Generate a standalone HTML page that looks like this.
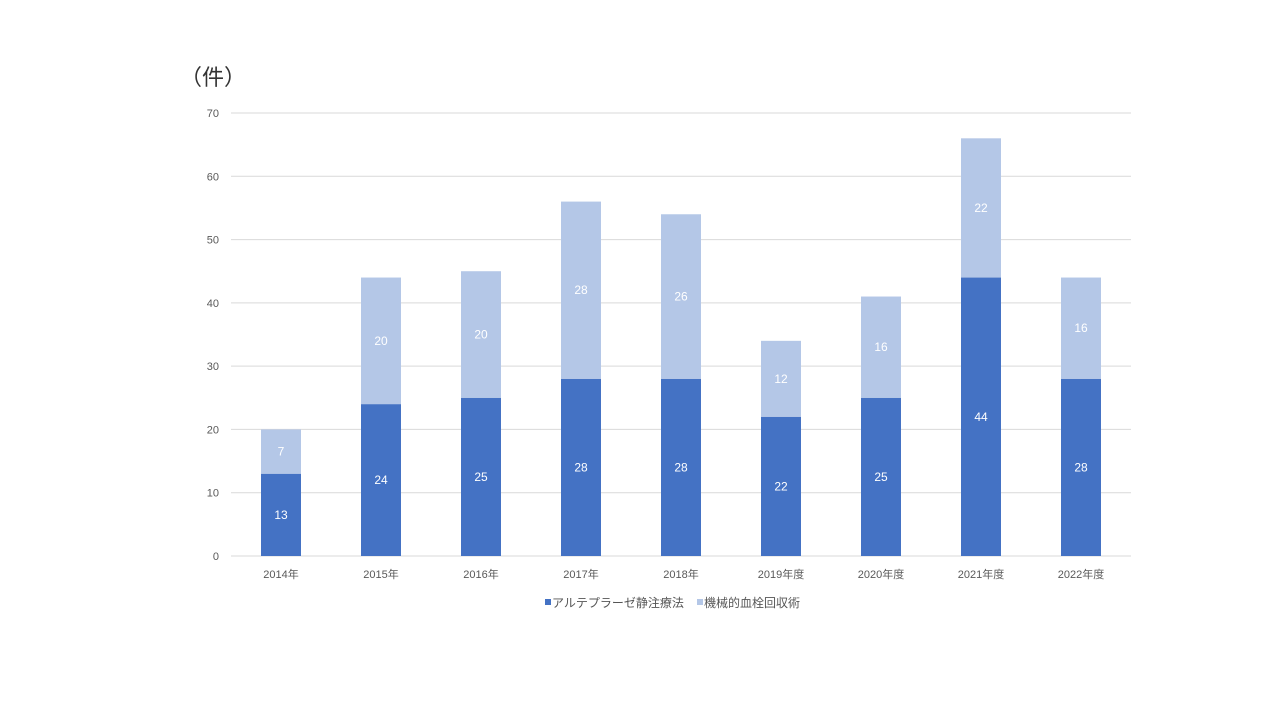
<!DOCTYPE html>
<html><head><meta charset="utf-8"><style>
body{margin:0;background:#fff;width:1280px;height:720px;overflow:hidden;font-family:"Liberation Sans","Noto Sans CJK JP",sans-serif;}
</style></head><body>
<svg id="c" width="1280" height="720" xmlns="http://www.w3.org/2000/svg">
<text x="180" y="85" font-size="22" fill="#333" font-family="Liberation Sans, Noto Sans CJK JP, sans-serif">（件）</text>
<g id="grid"></g><g id="bars"></g>
<g>
<rect x="545" y="599" width="6" height="6" fill="#4472C4"/>
<text x="552" y="607" font-size="12" fill="#555">アルテプラーゼ静注療法</text>
<rect x="697" y="599" width="6" height="6" fill="#B4C7E7"/>
<text x="704" y="607" font-size="12" fill="#555">機械的血栓回収術</text>
</g>
</svg>
<script>
const categories=["2014年","2015年","2016年","2017年","2018年","2019年度","2020年度","2021年度","2022年度"];
const alteplase=[13,24,25,28,28,22,25,44,28];
const thrombectomy=[7,20,20,28,26,12,16,22,16];
const yTicks=[0,10,20,30,40,50,60,70];
const NS="http://www.w3.org/2000/svg";
const x0=231,x1=1131,y0=556,yTop=113,yMax=70;
const y=v=>y0-(v/yMax)*(y0-yTop);
const band=(x1-x0)/categories.length;
const xc=i=>x0+band*(i+0.5);
function mk(t,a,p){const e=document.createElementNS(NS,t);for(const k in a)e.setAttribute(k,a[k]);p.appendChild(e);return e;}
const grid=document.getElementById('grid'),bars=document.getElementById('bars');
yTicks.forEach(t=>{
 const l=mk('line',{x1:x0,x2:x1,y1:y(t),y2:y(t),stroke:'#d9d9d9','stroke-width':1},grid);
 
 
 const tx=mk('text',{x:219,y:y(t)+4,'font-size':11,fill:'#595959','text-anchor':'end'},grid);
 tx.textContent=t;
 
 
});
categories.forEach((c,i)=>{
 const bw=40,cx=xc(i);
 const a=alteplase[i],b=thrombectomy[i];
 const r1=mk('rect',{x:cx-bw/2,y:y(a),width:bw,height:y(0)-y(a),fill:'#4472C4'},bars);
 
 
 const r2=mk('rect',{x:cx-bw/2,y:y(a+b),width:bw,height:y(a)-y(a+b),fill:'#B4C7E7'},bars);
 
 
 const t1=mk('text',{x:cx,y:(y(0)+y(a))/2+4,'font-size':12,fill:'#fff','text-anchor':'middle'},bars);
 t1.textContent=a;
 
 
 const t2=mk('text',{x:cx,y:(y(a)+y(a+b))/2+4,'font-size':12,fill:'#fff','text-anchor':'middle'},bars);
 t2.textContent=b;
 
 
 const xl=mk('text',{x:cx,y:578,'font-size':11,fill:'#595959','text-anchor':'middle'},bars);
 xl.textContent=c;
 
 
});
</script>
</body></html>
